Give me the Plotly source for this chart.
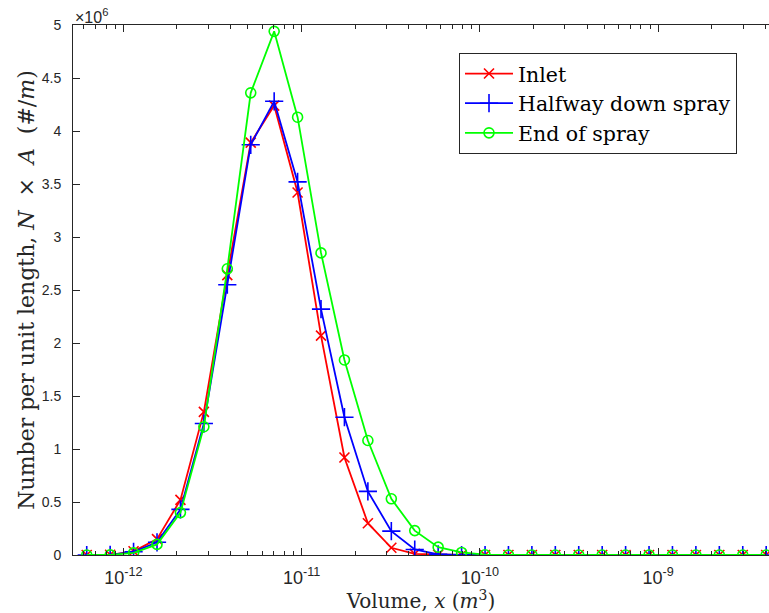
import math
import plotly.graph_objects as go

# Volume grid (m^3)
volume = [6.237e-13, 8.44e-13, 1.142e-12, 1.546e-12, 2.092e-12, 2.831e-12, 3.831e-12,
          5.185e-12, 7.018e-12, 9.497e-12, 1.285e-11, 1.739e-11, 2.354e-11, 3.186e-11,
          4.311e-11, 5.834e-11, 7.895e-11, 1.069e-10, 1.446e-10, 1.957e-10, 2.649e-10,
          3.584e-10, 4.851e-10, 6.565e-10, 8.884e-10, 1.202e-9, 1.627e-9, 2.202e-9,
          2.980e-9, 4.033e-9]

# Number per unit length (x 1e6 #/m)
inlet = [0.0, 0.002, 0.035, 0.15, 0.52, 1.35, 2.64, 3.89, 4.24, 3.42, 2.07, 0.92, 0.30,
         0.068, 0.01, 0.002, 0, 0, 0, 0, 0, 0, 0, 0, 0, 0, 0, 0, 0, 0]
halfway = [0.0, 0.001, 0.03, 0.12, 0.43, 1.24, 2.55, 3.87, 4.28, 3.52, 2.32, 1.30, 0.60,
           0.225, 0.052, 0.006, 0, 0, 0, 0, 0, 0, 0, 0, 0, 0, 0, 0, 0, 0]
end_spray = [0.0, 0.001, 0.02, 0.10, 0.40, 1.21, 2.70, 4.36, 4.94, 4.13, 2.85, 1.84, 1.08,
             0.53, 0.23, 0.074, 0.024, 0.003, 0, 0, 0, 0, 0, 0, 0, 0, 0, 0, 0, 0]

series_names = ["Inlet", "Halfway down spray", "End of spray"]
scale = 1e6

major_ticks = [1e-12, 1e-11, 1e-10, 1e-9]
major_labels = ["10<sup>-12</sup>", "10<sup>-11</sup>", "10<sup>-10</sup>", "10<sup>-9</sup>"]
y_ticks = [0, 0.5, 1, 1.5, 2, 2.5, 3, 3.5, 4, 4.5, 5]
y_labels = ["0", "0.5", "1", "1.5", "2", "2.5", "3", "3.5", "4", "4.5", "5"]

xrange_log = [-12.282, -8.3786]
minor_ticks = [m * 10.0 ** e for e in range(-13, -8) for m in range(2, 10)
               if xrange_log[0] <= math.log10(m * 10.0 ** e) <= xrange_log[1]]

AX = "#262626"
SERIF = "DejaVu Serif"
SANS = "Liberation Sans"

fig = go.Figure()
styles = [
    dict(color="#ff0000", symbol="x-thin-open", size=10),
    dict(color="#0000ff", symbol="cross-thin-open", size=13),
    dict(color="#00ff00", symbol="circle-open", size=10),
]
for name, vals, st in zip(series_names, [inlet, halfway, end_spray], styles):
    fig.add_trace(go.Scatter(
        x=volume, y=[v * scale for v in vals], name=name, mode="lines+markers",
        line=dict(color=st["color"], width=1.8),
        marker=dict(symbol=st["symbol"], size=st["size"], color=st["color"],
                    line=dict(color=st["color"], width=1.6)),
    ))

# invisible helper trace for minor-tick axis
fig.add_trace(go.Scatter(x=[volume[0]], y=[0], xaxis="x2", mode="markers",
                         marker=dict(opacity=0), showlegend=False, hoverinfo="skip"))

fig.update_layout(
    width=769, height=613,
    margin=dict(l=73, r=0, t=25, b=58),
    paper_bgcolor="white", plot_bgcolor="white",
    showlegend=True,
    legend=dict(x=0.5546, y=0.9477, xanchor="left", yanchor="top",
                bordercolor=AX, borderwidth=1, bgcolor="white", itemwidth=48,
                font=dict(family=SERIF, size=20.5, color="black")),
    xaxis=dict(type="log", range=xrange_log, tickmode="array", tickvals=major_ticks,
               ticktext=major_labels, ticks="inside", ticklen=7, tickwidth=1,
               tickcolor=AX, showline=True, linecolor=AX, linewidth=1, mirror="ticks",
               showgrid=False, zeroline=False, ticklabelstandoff=6,
               tickfont=dict(family=SANS, size=18, color=AX),
               title=dict(text="Volume, <i>x</i> (<i>m</i><sup>3</sup>)",
                          font=dict(family=SERIF, size=20, color=AX), standoff=4)),
    xaxis2=dict(type="log", range=xrange_log, overlaying="x", side="bottom", anchor="y",
                tickmode="array", tickvals=minor_ticks, ticks="inside", ticklen=4,
                tickwidth=1, tickcolor=AX, showticklabels=False, showline=False,
                mirror="ticks", showgrid=False, zeroline=False),
    yaxis=dict(range=[0, 5e6], tickmode="array", tickvals=[v * scale for v in y_ticks],
               ticktext=y_labels, ticks="inside", ticklen=7, tickwidth=1, tickcolor=AX,
               showline=True, linecolor=AX, linewidth=1, mirror=False, showgrid=False,
               zeroline=False, ticklabelstandoff=8,
               tickfont=dict(family=SANS, size=14, color=AX),
               title=dict(text="Number per unit length, <i>N</i>  ×  <i>A</i>  (#/<i>m</i>)",
                          font=dict(family=SERIF, size=22, color=AX), standoff=1)),
    annotations=[dict(text="×10<sup>6</sup>", xref="paper", yref="paper", x=0, y=1,
                      xanchor="left", yanchor="bottom", showarrow=False, yshift=-3,
                      font=dict(family=SANS, size=16, color=AX))],
)

fig.write_html("out.html")
